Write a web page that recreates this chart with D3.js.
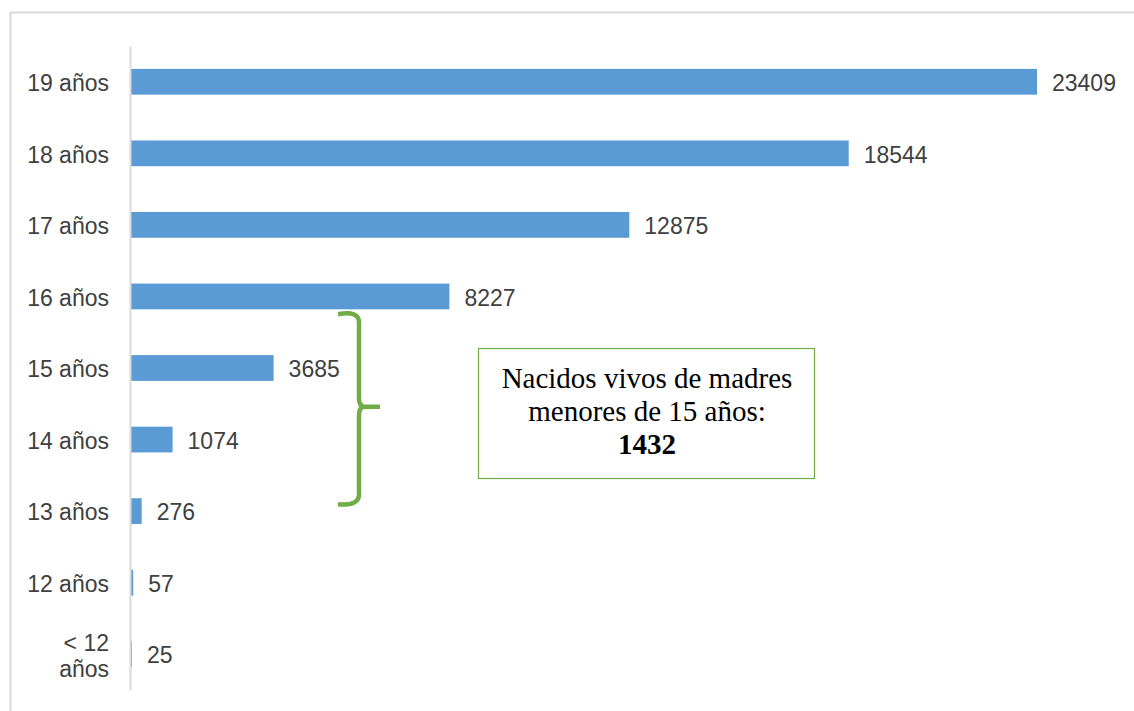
<!DOCTYPE html>
<html>
  <head>
    <meta charset="utf-8" />
    <title>Nacidos vivos por edad de la madre</title>
    <style>
      body {
        margin: 0;
        background: #fff;
      }
      .label {
        font-family: 'Liberation Sans', Arial, sans-serif;
        font-size: 23px;
        fill: #404040;
      }
      .note {
        font-family: 'Liberation Serif', 'Times New Roman', serif;
        font-size: 29px;
        fill: #000;
        text-anchor: middle;
      }
    </style>
    <script src="https://d3js.org/d3.v7.min.js"></script>
  </head>
  <body>
    <svg width="1134" height="711"></svg>
    <script>
      // datos
      var categorias = [
        '19 años',
        '18 años',
        '17 años',
        '16 años',
        '15 años',
        '14 años',
        '13 años',
        '12 años',
        '< 12 años',
      ]
      var valores = [23409, 18544, 12875, 8227, 3685, 1074, 276, 57, 25]
      var notaLineas = ['Nacidos vivos de madres', 'menores de 15 años:']
      var notaTotal = '1432'

      var svg = d3.select('svg')

      // marco del gráfico
      svg
        .append('rect')
        .attr('x', 10.5)
        .attr('y', 12.5)
        .attr('width', 1200)
        .attr('height', 800)
        .attr('fill', 'none')
        .attr('stroke', '#d9d9d9')
        .attr('stroke-width', 2)

      var data = categorias.map(function (c, i) {
        return { cat: c, val: valores[i] }
      })

      // escalas
      var y = d3
        .scaleBand()
        .domain(categorias)
        .range([46, 690])
        .paddingInner(0.64)
        .paddingOuter(0.32)

      var x = d3
        .scaleLinear()
        .domain([0, d3.max(valores)])
        .range([131, 1037])

      // barras
      svg
        .selectAll('.bar')
        .data(data)
        .enter()
        .append('rect')
        .attr('class', 'bar')
        .attr('x', x(0))
        .attr('y', function (d) {
          return y(d.cat)
        })
        .attr('width', function (d) {
          return Math.max(x(d.val) - x(0), 1)
        })
        .attr('height', y.bandwidth())
        .attr('fill', '#5b9bd5')

      // eje vertical
      var eje = svg
        .append('g')
        .attr('transform', 'translate(130,0)')
        .call(d3.axisLeft(y).tickSize(0).tickPadding(21))
      eje.select('.domain').attr('stroke', '#d9d9d9').attr('stroke-width', 2)
      eje.selectAll('.tick text').each(function (d) {
        var t = d3.select(this)
        t.attr('class', 'label').attr('fill', null).attr('font-size', null).attr('font-family', null)
        t.attr('dy', '0.4em')
        if (d === '< 12 años') {
          t.text(null)
          t.append('tspan').attr('x', -21).attr('dy', '-0.15em').text('< 12')
          t.append('tspan').attr('x', -21).attr('dy', '1.15em').text('años')
        }
      })
      eje.attr('font-size', null).attr('font-family', null)

      // etiquetas de valores
      svg
        .selectAll('.valor')
        .data(data)
        .enter()
        .append('text')
        .attr('class', 'label')
        .attr('x', function (d) {
          return x(d.val) + 15
        })
        .attr('y', function (d) {
          return y(d.cat) + y.bandwidth() / 2
        })
        .attr('dy', '0.4em')
        .text(function (d) {
          return d.val
        })

      // llave verde (15 a 13 años)
      var yTop = y('16 años') + y.bandwidth() + 3
      var yBot = y('13 años') + 6
      var yMid = y('14 años') - 20
      var bx = 359
      var llave = d3.path()
      llave.moveTo(338, yTop + 2)
      llave.quadraticCurveTo(bx, yTop - 2, bx, yTop + 10)
      llave.lineTo(bx, yMid - 8)
      llave.quadraticCurveTo(bx, yMid, bx + 6, yMid)
      llave.lineTo(380, yMid)
      llave.moveTo(bx + 6, yMid)
      llave.quadraticCurveTo(bx, yMid, bx, yMid + 8)
      llave.lineTo(bx, yBot - 10)
      llave.quadraticCurveTo(bx, yBot + 2, 338, yBot)
      svg
        .append('path')
        .attr('d', llave.toString())
        .attr('fill', 'none')
        .attr('stroke', '#70ad47')
        .attr('stroke-width', 4.5)

      // recuadro con nota
      svg
        .append('rect')
        .attr('x', 478.5)
        .attr('y', 348.5)
        .attr('width', 336)
        .attr('height', 130)
        .attr('fill', '#fff')
        .attr('stroke', '#70ad47')
        .attr('stroke-width', 1.2)

      var nota = svg.append('text').attr('class', 'note')
      notaLineas.forEach(function (l, i) {
        nota
          .append('tspan')
          .attr('x', 647)
          .attr('y', 388 + i * 33)
          .text(l)
      })
      nota
        .append('tspan')
        .attr('x', 647)
        .attr('y', 454)
        .attr('font-weight', 'bold')
        .text(notaTotal)
    </script>
  </body>
</html>
